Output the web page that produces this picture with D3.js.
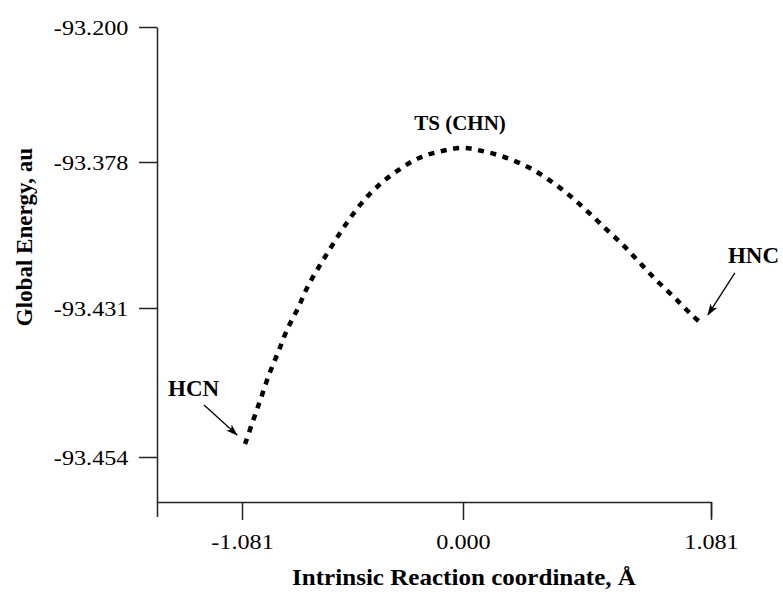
<!DOCTYPE html>
<html><head>
<meta charset="utf-8">
<script src="https://d3js.org/d3.v7.min.js"></script>
<style>
  body { margin: 0; background: #fff; }
  svg text { font-family: "Liberation Serif", "Times New Roman", serif; fill: #000; }
  .title { font-weight: bold; font-size: 23px; }
  .note { font-weight: bold; font-size: 23px; }
</style>
</head><body>
<svg id="chart" width="783" height="596"></svg>
<script>

// IRC profile, HCN -> TS -> HNC
let ircCoord = [-1.066, -1.027, -0.988, -0.949, -0.905, -0.861, -0.807, -0.758, -0.699, -0.636,
                -0.572, -0.499, -0.416, -0.323, -0.215, -0.103, 0.000, 0.083, 0.179, 0.283,
                0.375, 0.462, 0.541, 0.619, 0.697, 0.772, 0.846, 0.924, 0.998, 1.037];
let energy = [-93.4520, -93.4484, -93.4449, -93.4413, -93.4379, -93.4344, -93.4310, -93.4230, -93.4154, -93.4078,
              -93.4005, -93.3932, -93.3867, -93.3813, -93.3727, -93.3635, -93.3595, -93.3635, -93.3714, -93.3798,
              -93.3845, -93.3900, -93.3958, -93.4020, -93.4081, -93.4147, -93.4212, -93.4274, -93.4321, -93.4333];

let xTickValues = [-1.081, 0.000, 1.081];
let yTickValues = [-93.454, -93.431, -93.378, -93.200];

let xTitle = "Intrinsic Reaction coordinate, Å";
let yTitle = "Global Energy, au";

let svg = d3.select("#chart");

// the original's text is a little wider than it is tall
let stretch = "scale(1.1,1)";

// the axes are not evenly spaced in the original, so use piecewise scales
let xScale = d3.scaleLinear()
  .domain([-1.497, -1.081, 0.000, 1.081])
  .range([157, 242, 463, 711]);
let yScale = d3.scaleLinear()
  .domain([-93.461, -93.454, -93.431, -93.378, -93.200])
  .range([502, 457, 308, 162, 27]);

// x axis
let xAxis = svg.append("g")
  .attr("transform", "translate(0,502)")
  .call(d3.axisBottom(xScale)
    .tickValues(xTickValues)
    .tickFormat(d => d.toFixed(3))
    .tickSize(18).tickSizeOuter(15).tickPadding(13));

// y axis
let yAxis = svg.append("g")
  .attr("transform", "translate(157,0)")
  .call(d3.axisLeft(yScale)
    .tickValues(yTickValues)
    .tickFormat(d => d.toFixed(3))
    .tickSize(18).tickSizeOuter(0).tickPadding(8));

[xAxis, yAxis].forEach(function(ax) {
  ax.attr("font-family", null).attr("font-size", null);
  ax.selectAll("path, line").attr("stroke", "#222").attr("stroke-width", 1.5);
  ax.selectAll("text").style("font-size", "22px").attr("transform", stretch);
});

// axis titles
svg.append("text").attr("class", "title")
  .attr("transform", "translate(464,585) scale(1.09,1)")
  .attr("text-anchor", "middle")
  .text(xTitle);
svg.append("text").attr("class", "title")
  .attr("transform", "translate(32,237) rotate(-90)")
  .attr("text-anchor", "middle")
  .text(yTitle);

// dotted energy curve
let pts = ircCoord.map((d, i) => [d, energy[i]]);
let line = d3.line()
  .x(d => xScale(d[0]))
  .y(d => yScale(d[1]))
  .curve(d3.curveCatmullRom);
svg.append("path")
  .datum(pts)
  .attr("d", line)
  .attr("fill", "none")
  .attr("stroke", "#000")
  .attr("stroke-width", 4.5)
  .attr("stroke-dasharray", "6,6.6");

// arrow heads
svg.append("defs").append("marker")
  .attr("id", "head")
  .attr("markerUnits", "userSpaceOnUse")
  .attr("markerWidth", 12).attr("markerHeight", 8)
  .attr("refX", 11).attr("refY", 4)
  .attr("orient", "auto")
  .append("path").attr("d", "M0,0 L12,4 L0,8 L3,4 z").attr("fill", "#000");

let first = pts[0], last = pts[pts.length - 1];
let peak = pts[d3.maxIndex(pts, d => d[1])];

// labels
svg.append("text").attr("class", "note")
  .attr("x", xScale(peak[0]) - 3).attr("y", yScale(peak[1]) - 18)
  .attr("text-anchor", "middle")
  .style("font-size", "21px")
  .text("TS (CHN)");

svg.append("text").attr("class", "note")
  .attr("x", xScale(first[0]) - 77).attr("y", yScale(first[1]) - 48)
  .text("HCN");
svg.append("line")
  .attr("x1", xScale(first[0]) - 41).attr("y1", yScale(first[1]) - 39)
  .attr("x2", xScale(first[0]) - 8).attr("y2", yScale(first[1]) - 9)
  .attr("stroke", "#000").attr("stroke-width", 1.3)
  .attr("marker-end", "url(#head)");

svg.append("text").attr("class", "note")
  .attr("x", xScale(last[0]) + 27).attr("y", yScale(last[1]) - 60)
  .text("HNC");
svg.append("line")
  .attr("x1", xScale(last[0]) + 34).attr("y1", yScale(last[1]) - 50)
  .attr("x2", xScale(last[0]) + 7).attr("y2", yScale(last[1]) - 8)
  .attr("stroke", "#000").attr("stroke-width", 1.3)
  .attr("marker-end", "url(#head)");

</script>
</body>
</html>
